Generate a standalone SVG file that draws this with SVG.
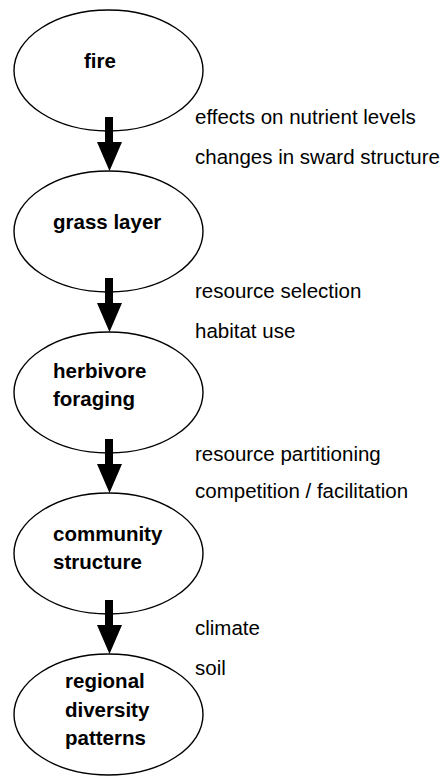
<svg xmlns="http://www.w3.org/2000/svg" width="447" height="778" viewBox="0 0 447 778">
<defs>
<style>
.node ellipse{fill:#fff;stroke:#000;stroke-width:1.4}
.node text{font-family:"Liberation Sans",Arial,sans-serif;font-weight:bold;font-size:20.5px;fill:#000}
.lbl{font-family:"Liberation Sans",Arial,sans-serif;font-size:20.5px;fill:#000}
.arr{fill:#000}
</style>
<path id="arrow" d="M105,117 H113 V142 H122 L109.5,171 L97,142 H105 Z"/>
</defs>
<rect width="447" height="778" fill="#fff"/>
<g id="fire" class="node">
<ellipse cx="108.5" cy="70.5" rx="94.5" ry="60.5"/>
<text x="84" y="68">fire</text>
</g>
<g id="grass" class="node">
<ellipse cx="108.5" cy="231.5" rx="94.5" ry="60.5"/>
<text x="53" y="229">grass layer</text>
</g>
<g id="herbivore" class="node">
<ellipse cx="108.5" cy="392.5" rx="94.5" ry="60.5"/>
<text x="53" y="378">herbivore</text>
<text x="53" y="406">foraging</text>
</g>
<g id="community" class="node">
<ellipse cx="108.5" cy="553.5" rx="94.5" ry="60.5"/>
<text x="53" y="541">community</text>
<text x="53" y="569">structure</text>
</g>
<g id="regional" class="node">
<ellipse cx="108.5" cy="714.5" rx="94.5" ry="60.5"/>
<text x="65" y="688">regional</text>
<text x="65" y="716.5">diversity</text>
<text x="65" y="745">patterns</text>
</g>
<g id="connectors" class="arr">
<use href="#arrow"/>
<use href="#arrow" y="161"/>
<use href="#arrow" y="322"/>
<use href="#arrow" y="483"/>
</g>
<g id="labels">
<text class="lbl" x="195" y="124">effects on nutrient levels</text>
<text class="lbl" x="195" y="164">changes in sward structure</text>
<text class="lbl" x="195" y="298">resource selection</text>
<text class="lbl" x="195" y="338">habitat use</text>
<text class="lbl" x="195" y="461">resource partitioning</text>
<text class="lbl" x="195" y="498">competition / facilitation</text>
<text class="lbl" x="195" y="635">climate</text>
<text class="lbl" x="195" y="675">soil</text>
</g>
</svg>
